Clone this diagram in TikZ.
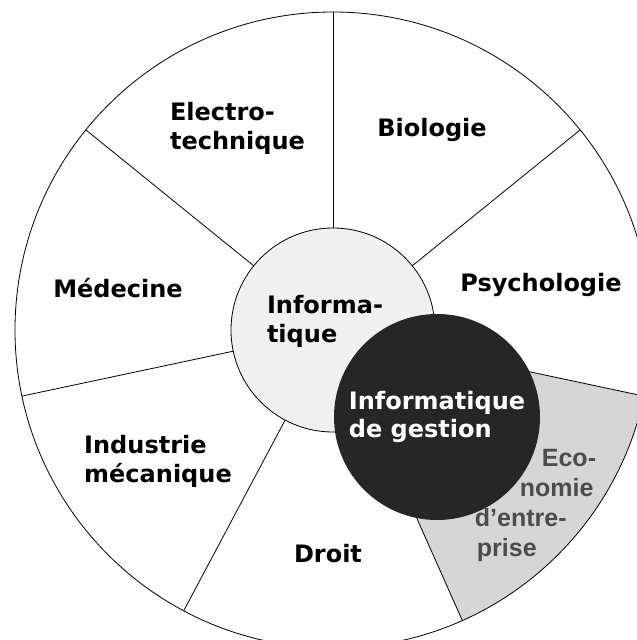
\documentclass[tikz,border=0pt]{standalone}
\usepackage{fontspec}
\setmainfont{DejaVu Sans}
\newfontfamily\arialfont{Liberation Sans}
\usepackage{xcolor}
\usepackage{tikz}

\definecolor{infolight}{gray}{0.94}
\definecolor{infodark}{gray}{0.15}
\definecolor{ecogray}{gray}{0.84}
\definecolor{ecotext}{gray}{0.30}

\begin{document}
\begin{tikzpicture}[x=1pt, y=1pt,
    field/.style={font=\fontsize{24}{29}\selectfont\bfseries, align=left, inner sep=0pt},
    ring/.style={circle, draw, line width=0.8pt, inner sep=0pt, outer sep=0pt}]
  \useasboundingbox (-333,-310) rectangle (304,330);
  \clip (-333,-310) rectangle (304,330);
  \fill[white] (-333,-310) rectangle (304,330);

  % shaded sector
  \fill[ecogray] (0,0) -- (294:318) arc[start angle=294, end angle=348, radius=318] -- cycle;

  % outer disc and centre
  \node[ring, minimum size=636pt] (disc) at (0,0) {};
  \node[ring, fill=infolight, minimum size=204pt] (info) at (0,0) {};

  % spokes
  \foreach \a in {39,90,141,192,242,294,348}
    \draw[line width=0.8pt] (info.\a) -- (disc.\a);

  % sector labels
  \node[field] (elec) at (-95.5,201.7) {Electro-\\technique};
  \node[field] (bio) at (99,200) {Biologie};
  \node[field] (med) at (-215,42) {Médecine};
  \node[field] (psy) at (208,45) {Psychologie};
  \node[field] (indus) at (-175,-131) {Industrie\\mécanique};
  \node[field] (droit) at (-5,-224) {Droit};
  \node[field] (infotxt) at (-8,8.7) {Informa-\\tique};

  % overlapping field
  \node[circle, fill=infodark, text=white, minimum size=206pt, inner sep=0pt,
        font=\fontsize{24}{28}\selectfont\bfseries, align=left] (gestion) at (104,-87)
        {Informatique\\de gestion};
  \node[font=\arialfont\fontsize{25}{30}\selectfont\bfseries, text=ecotext,
        align=left, inner sep=0pt] (eco) at (202.5,-175.5)
        {\hspace*{67pt}Eco-\\\hspace*{45pt}nomie\\d’entre-\\\hspace*{2pt}prise};
\end{tikzpicture}
\end{document}
